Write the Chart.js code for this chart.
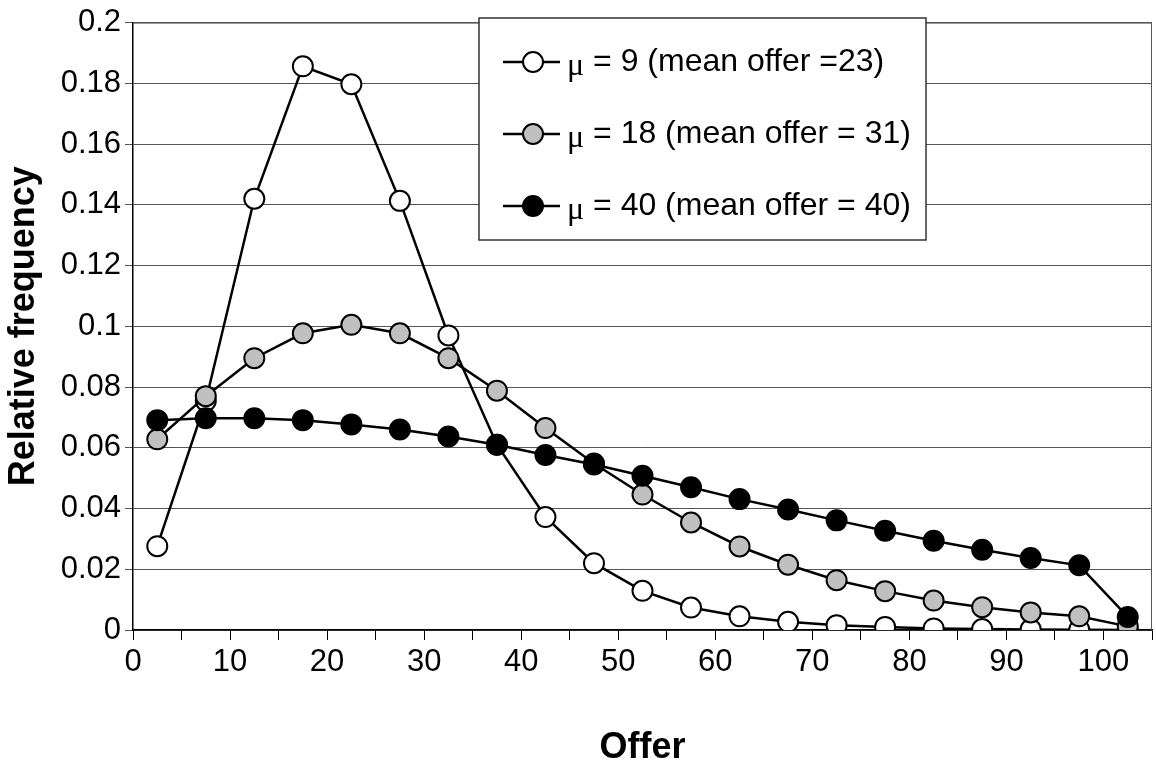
<html>
<head>
  <script src="https://cdn.jsdelivr.net/npm/chart.js"></script>
  <style>
    body { margin:0; background:#fff; }
  </style>
</head>
<body>

<canvas id="offer-graph" width="1156" height="776" style="width:1156px;height:776px;"></canvas>

<script>
// offer categories (centre of each 5-wide bin)
var offers = [2.5, 7.5, 12.5, 17.5, 22.5, 27.5, 32.5, 37.5, 42.5, 47.5, 52.5,
              57.5, 62.5, 67.5, 72.5, 77.5, 82.5, 87.5, 92.5, 97.5, 102.5];

var mu9  = [0.0276, 0.0754, 0.142, 0.1856, 0.1797, 0.1413, 0.097, 0.061, 0.0372, 0.022, 0.0129,
            0.0074, 0.0045, 0.0027, 0.0016, 0.001, 0.0005, 0.0003, 0.0002, 0.0001, 0.0];
var mu18 = [0.0628, 0.077, 0.0895, 0.0977, 0.1005, 0.0977, 0.0895, 0.0788, 0.0665, 0.0548, 0.0446,
            0.0354, 0.0275, 0.0215, 0.0164, 0.0128, 0.0097, 0.0075, 0.0058, 0.0045, 0.0012];
var mu40 = [0.0691, 0.0697, 0.0697, 0.0691, 0.0677, 0.066, 0.0637, 0.061, 0.0576, 0.0545, 0.0508,
            0.047, 0.0431, 0.0397, 0.0361, 0.0327, 0.0294, 0.0264, 0.0237, 0.0213, 0.0043];

var seriesNames = ['= 9 (mean offer =23)', '= 18 (mean offer = 31)', '= 40 (mean offer = 40)'];
var xTickLabels = [0, 10, 20, 30, 40, 50, 60, 70, 80, 90, 100];
var xMarks = [0, 5, 10, 15, 20, 25, 30, 35, 40, 45, 50, 55, 60, 65, 70, 75, 80, 85, 90, 95, 100, 105];

function pts(ys){
  return ys.map(function(y, i){ return {x: offers[i], y: y}; });
}

function series(label, ys, fill, order){
  return {
    label: label,
    data: pts(ys),
    borderColor: '#000',
    borderWidth: 2.5,
    backgroundColor: fill,
    pointBackgroundColor: fill,
    pointBorderColor: '#000',
    pointBorderWidth: 2,
    pointRadius: 10,
    pointHoverRadius: 10,
    tension: 0,
    order: order
  };
}

var frame = {
  id: 'frame',
  beforeDatasetsDraw: function(chart){
    var a = chart.chartArea, ctx = chart.ctx;
    ctx.save();
    ctx.strokeStyle = '#555';
    ctx.lineWidth = 1;
    ctx.beginPath();
    ctx.moveTo(a.left, a.top + 0.5);
    ctx.lineTo(a.right - 0.5, a.top + 0.5);
    ctx.lineTo(a.right - 0.5, a.bottom);
    ctx.stroke();
    ctx.restore();
  }
};

var boxLegend = {
  id: 'boxLegend',
  afterDraw: function(chart){
    var ctx = chart.ctx;
    var bx = 479, by = 18, bw = 447, bh = 222;
    ctx.save();
    ctx.fillStyle = '#fff';
    ctx.fillRect(bx, by, bw, bh);
    ctx.strokeStyle = '#333';
    ctx.lineWidth = 1.5;
    ctx.strokeRect(bx, by, bw, bh);
    chart.data.datasets.forEach(function(ds, i){
      var y = 62 + i * 72;
      ctx.strokeStyle = '#000';
      ctx.lineWidth = 2.5;
      ctx.beginPath();
      ctx.moveTo(503, y);
      ctx.lineTo(560, y);
      ctx.stroke();
      ctx.beginPath();
      ctx.arc(533, y, 10, 0, Math.PI * 2);
      ctx.fillStyle = ds.pointBackgroundColor;
      ctx.fill();
      ctx.lineWidth = 2;
      ctx.stroke();
      ctx.fillStyle = '#000';
      ctx.textBaseline = 'middle';
      ctx.font = '32px "Liberation Serif"';
      ctx.fillText('\u03bc', 567, y + 5);
      var w = ctx.measureText('\u03bc').width;
      ctx.font = '32px "Liberation Sans", Arial';
      ctx.fillText(' ' + ds.label, 567 + w, y);
    });
    ctx.restore();
  }
};

new Chart(document.getElementById('offer-graph'), {
  type: 'line',
  data: {
    datasets: [
      series(seriesNames[0], mu9, '#ffffff', 3),
      series(seriesNames[1], mu18, '#c0c0c0', 2),
      series(seriesNames[2], mu40, '#000000', 1)
    ]
  },
  options: {
    responsive: false,
    animation: false,
    devicePixelRatio: 1,
    layout: { autoPadding: false, padding: { left: 0, right: 2, top: 20, bottom: 0 } },
    plugins: { legend: { display: false }, tooltip: { enabled: false } },
    scales: {
      x: {
        type: 'linear',
        position: 'bottom',
        min: 0,
        max: 105,
        afterBuildTicks: function(scale){
          scale.ticks = xMarks.map(function(v){ return {value: v}; });
        },
        afterFit: function(scale){ scale.height = 146; },
        ticks: {
          padding: 4,
          color: '#000',
          maxRotation: 0,
          autoSkip: false,
          font: { family: '"Liberation Sans", Arial', size: 31 },
          callback: function(v){
            return xTickLabels.indexOf(v) >= 0 ? String(v) : '';
          }
        },
        grid: { drawOnChartArea: false, drawTicks: true, tickLength: 10, color: '#000', lineWidth: 1 },
        border: { color: '#000', width: 1.5 },
        title: {
          display: true,
          text: 'Offer',
          color: '#000',
          padding: { top: 0, bottom: 6 },
          font: { family: '"Liberation Sans", Arial', size: 36, weight: 'bold' }
        }
      },
      y: {
        min: 0,
        max: 0.2,
        afterFit: function(scale){ scale.width = 133; },
        ticks: {
          stepSize: 0.02,
          padding: 4,
          color: '#000',
          font: { family: '"Liberation Sans", Arial', size: 31 },
          callback: function(v){ return String(+v.toFixed(2)); }
        },
        grid: { color: '#555', lineWidth: 1, tickLength: 8 },
        border: { color: '#000', width: 1.5 },
        title: {
          display: true,
          text: 'Relative frequency',
          color: '#000',
          padding: 2,
          font: { family: '"Liberation Sans", Arial', size: 36, weight: 'bold' }
        }
      }
    }
  },
  plugins: [frame, boxLegend]
});
</script>
</body>
</html>
